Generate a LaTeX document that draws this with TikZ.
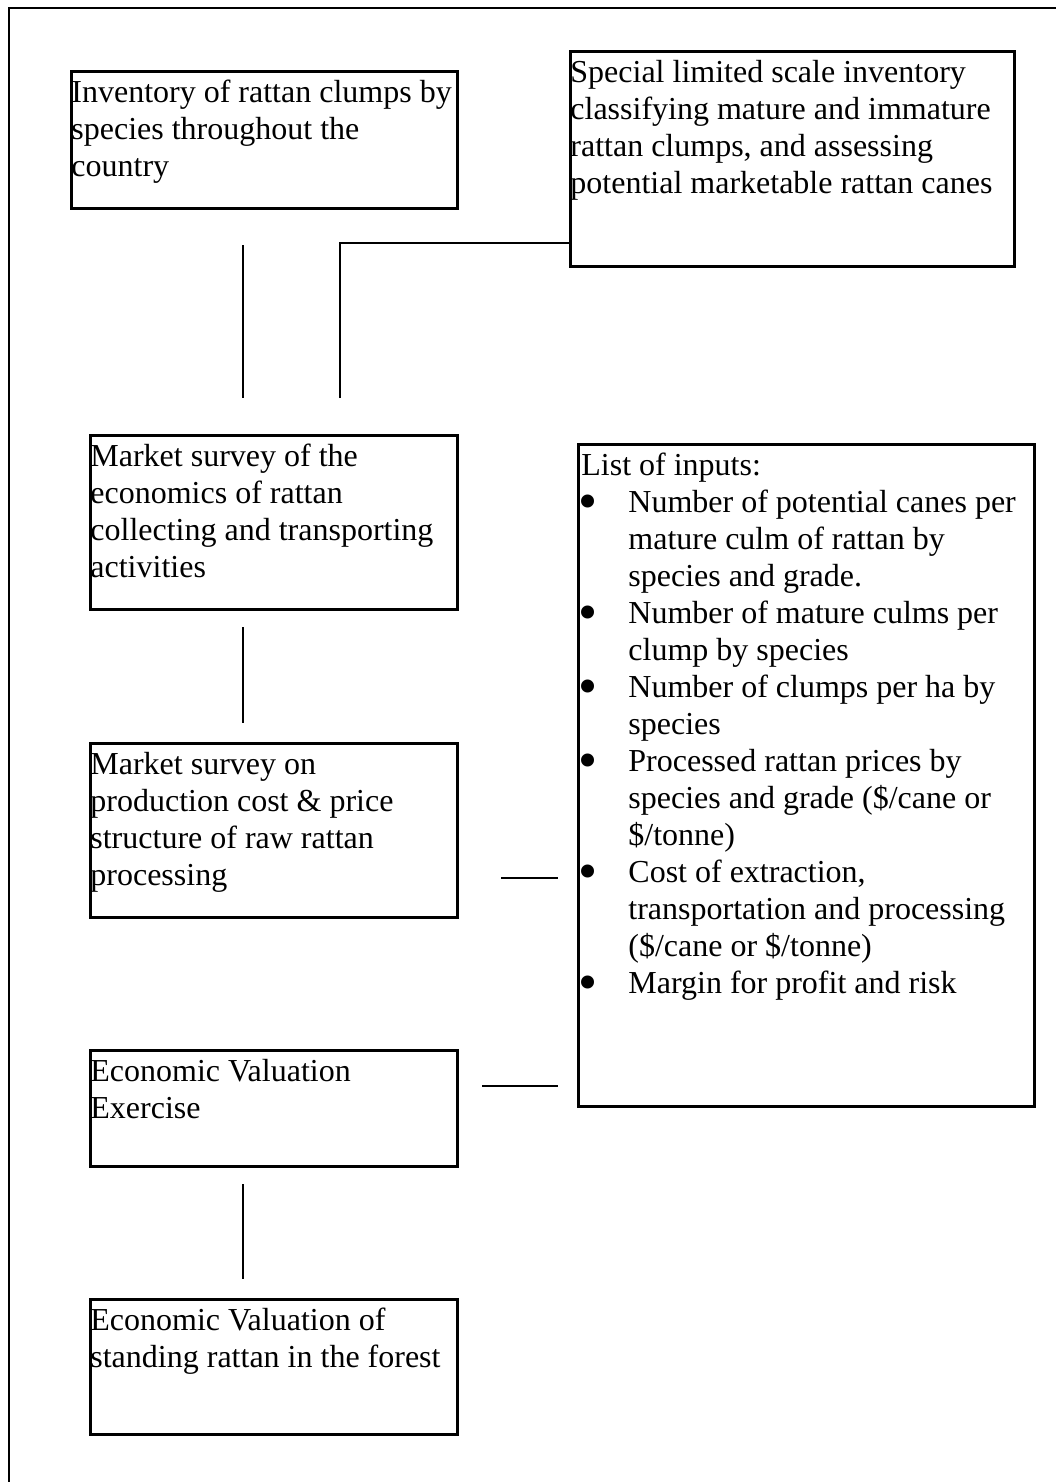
\documentclass[tikz,border=0pt]{standalone}
\usepackage{fontspec}
\setmainfont{Liberation Serif}
\usetikzlibrary{positioning}

\newcommand{\boxtext}[3]{\parbox[c][#2][t]{#1}{\rule{0pt}{31pt}#3}}
\newcommand{\inputitem}[1]{\par\hangindent=50pt\hangafter=1\noindent\makebox[50pt][l]{\raisebox{-7pt}{\scalebox{1.7}{\textbullet}}}#1}

\begin{document}
\begin{tikzpicture}[x=1pt,y=-1pt,
		box/.style={draw, line width=2.8pt, inner sep=0pt, anchor=north west, font=\fontsize{32}{37}\selectfont},
		link/.style={line width=2.8pt}]
			\useasboundingbox (0,0) rectangle (1056,1482);
			\draw[link] (9,1520) rectangle (1080,8); % frame runs off the page

			\node[box] (inv) at (70,70) {\boxtext{386pt}{137pt}{Inventory of rattan clumps by\\species throughout the\\country}};
			\node[box] (special) at (569,50) {\boxtext{444pt}{215pt}{Special limited scale inventory\\classifying mature and immature\\rattan clumps, and assessing\\potential marketable rattan canes}};
			\node[box] (collect) at (89,434) {\boxtext{367pt}{174pt}{Market survey of the\\economics of rattan\\collecting and transporting\\activities}};
			\node[box] (process) at (89,742) {\boxtext{367pt}{174pt}{Market survey on\\production cost \& price\\structure of raw rattan\\processing}};
			\node[box] (exercise) at (89,1049) {\boxtext{367pt}{116pt}{Economic Valuation\\Exercise}};
			\node[box] (standing) at (89,1298) {\boxtext{367pt}{135pt}{Economic Valuation of\\standing rattan in the forest}};
			\node[box] (inputs) at (577,443) {\boxtext{456pt}{662pt}{\hspace{3pt}List of inputs:
				\inputitem{Number of potential canes per\\mature culm of rattan by\\species and grade.}
				\inputitem{Number of mature culms per\\clump by species}
				\inputitem{Number of clumps per ha by\\species}
				\inputitem{Processed rattan prices by\\species and grade (\$/cane or\\\$/tonne)}
				\inputitem{Cost of extraction,\\transportation and processing\\(\$/cane or \$/tonne)}
				\inputitem{Margin for profit and risk}}};

			\coordinate (ia) at (243,245);
			\coordinate (ib) at (243,398);
			\coordinate (sa) at (340,243);
			\coordinate (sb) at (340,398);
			\coordinate (ca) at (243,627);
			\coordinate (cb) at (243,723);
			\coordinate (pa) at (501,878);
			\coordinate (pb) at (558,878);
			\coordinate (ea) at (482,1086);
			\coordinate (eb) at (558,1086);
			\coordinate (va) at (243,1184);
			\coordinate (vb) at (243,1279);

			\draw[link] (ia) -- (ib);
			\draw[link] (sb) -- (sa) -- (sa -| special.west);
			\draw[link] (ca) -- (cb);
			\draw[link] (pa) -- (pb);
			\draw[link] (ea) -- (eb);
			\draw[link] (va) -- (vb);
		\end{tikzpicture}
\end{document}
